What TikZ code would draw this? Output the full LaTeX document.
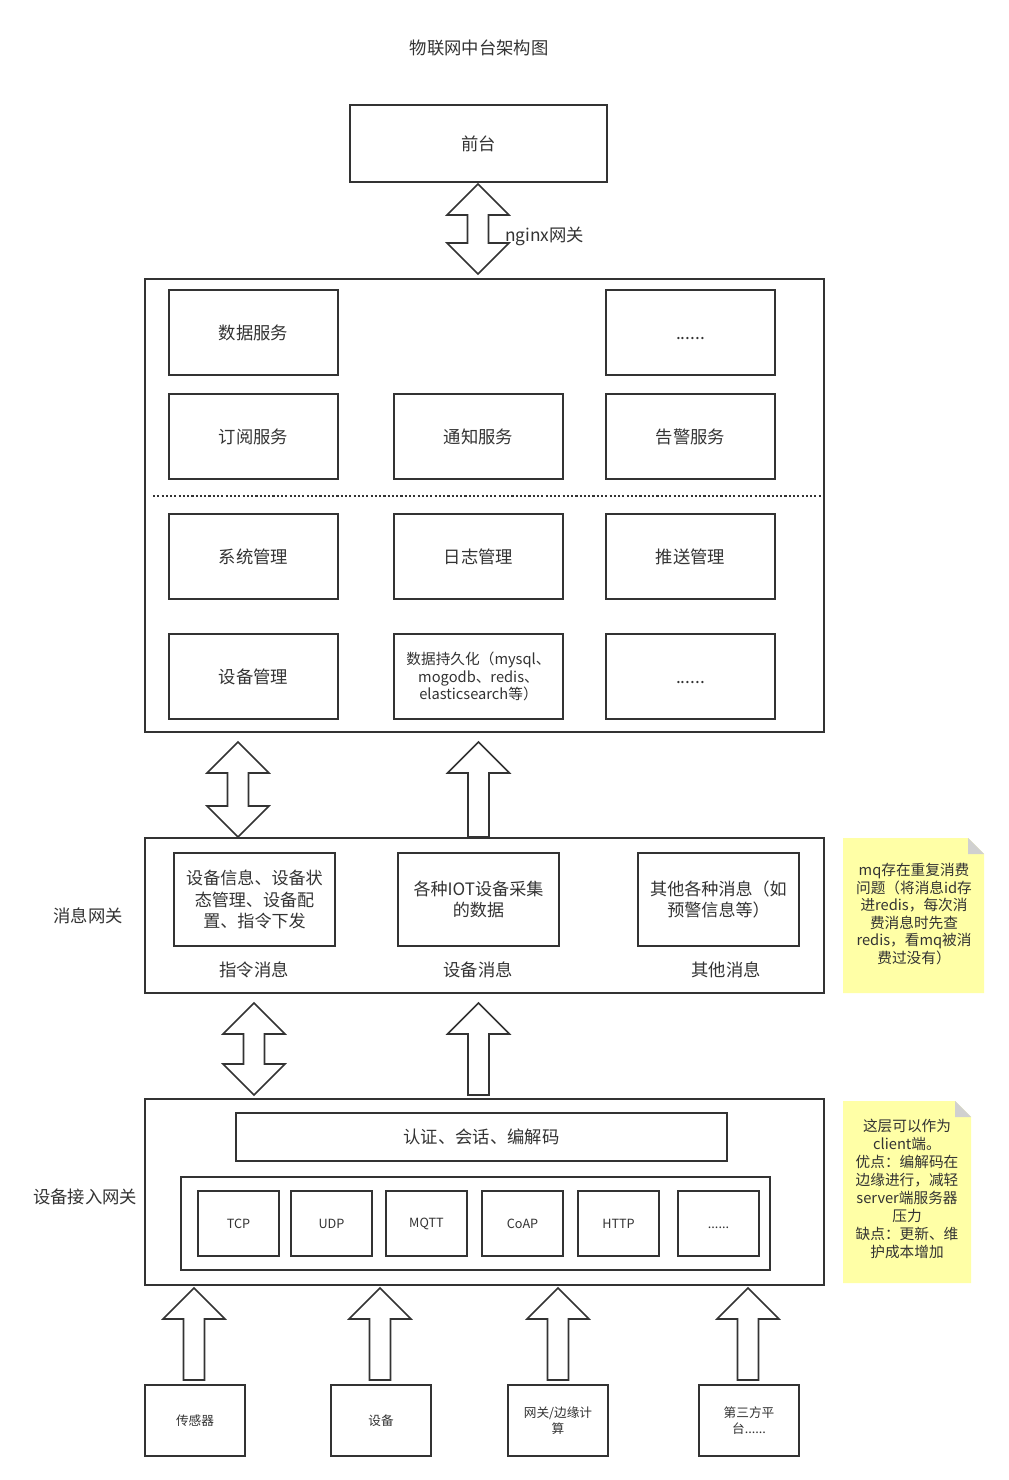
\documentclass[tikz,border=0pt]{standalone}
\usepackage{fontspec}
\setmainfont{Noto Sans CJK SC}
\definecolor{ln}{HTML}{333333}
\definecolor{notey}{HTML}{FFFFA6}
\definecolor{foldc}{HTML}{D0D0D0}
\tikzset{
 box/.style={draw=ln, line width=1.2pt, fill=white, text=ln, align=center, inner sep=0pt, font=\fontsize{13}{16}\selectfont},
 sz/.style 2 args={minimum width=#1*0.75pt, minimum height=#2*0.75pt},
 small/.style={font=\fontsize{9.5}{12}\selectfont},
 blk/.style={draw=ln, line width=1.2pt, fill=white, line join=miter},
 lbl/.style={text=ln, font=\fontsize{13}{16}\selectfont, inner sep=0pt},
 notetext/.style={text=ln, align=center, inner sep=0pt},
 note/.style={fill=notey, draw=none},
 foldtri/.style={fill=foldc, draw=none},
}
\newcommand\uparr[3]{%
 \draw[blk] (#1,#2) -- (#1+31,#2+31) -- (#1+10.5,#2+31) -- (#1+10.5,#3) -- (#1-10.5,#3) -- (#1-10.5,#2+31) -- (#1-31,#2+31) -- cycle;}
\newcommand\dblarr[3]{%
 \draw[blk] (#1,#2) -- (#1+31,#2+31) -- (#1+10.5,#2+31) -- (#1+10.5,#3-31) -- (#1+31,#3-31) -- (#1,#3) -- (#1-31,#3-31) -- (#1-10.5,#3-31) -- (#1-10.5,#2+31) -- (#1-31,#2+31) -- cycle;}
\begin{document}
\begin{tikzpicture}[x=0.75pt,y=-0.75pt]
\useasboundingbox[fill=white] (0,0) rectangle (1009,1480);

\node[lbl] (title) at (479,48) {物联网中台架构图};

% front
\node[box, sz={257}{77}] (front) at (478.5,143.5) {前台};
\dblarr{478}{184}{274}
\node[lbl, anchor=west] (nginx) at (505,236) {nginx网关};

% main
\node[box, sz={679}{453}] (main) at (484.5,505.5) {};
\node[box, sz={169}{85}] (ds) at (253.5,332.5) {数据服务};
\node[box, sz={169}{85}] (dots1) at (690.5,332.5) {\vphantom{数}......};
\node[box, sz={169}{85}] (sub) at (253.5,436.5) {订阅服务};
\node[box, sz={169}{85}] (notif) at (478.5,436.5) {通知服务};
\node[box, sz={169}{85}] (alarm) at (690.5,436.5) {告警服务};
\coordinate (dl) at (153,496);
\coordinate (dr) at (821,496);
\draw[ln, line width=1.2pt, dash pattern=on 1.6pt off 1.6pt] (dl) -- (dr);
\node[box, sz={169}{85}] (sys) at (253.5,556.5) {系统管理};
\node[box, sz={169}{85}] (log) at (478.5,556.5) {日志管理};
\node[box, sz={169}{85}] (push) at (690.5,556.5) {推送管理};
\node[box, sz={169}{85}] (dev) at (253.5,676.5) {设备管理};
\node[box, sz={169}{85}, font=\fontsize{11}{13.2}\selectfont] (persist) at (478.5,676.5) {数据持久化（mysql、\\mogodb、redis、\\elasticsearch等）};
\node[box, sz={169}{85}] (dots2) at (690.5,676.5) {\vphantom{数}......};

\dblarr{238}{742}{837}
\uparr{478.5}{742}{837}

% message gateway
\node[box, sz={679}{155}] (msg) at (484.5,915.5) {};
\node[lbl] (msglbl) at (88,916) {消息网关};
\node[box, sz={161}{93}, font=\fontsize{12.8}{15.8}\selectfont] (m1) at (254.5,899.5) {设备信息、设备状\\态管理、设备配\\置、指令下发};
\node[box, sz={161}{93}, font=\fontsize{12.8}{15.8}\selectfont] (m2) at (478.5,899.5) {各种IOT设备采集\\的数据};
\node[box, sz={161}{93}, font=\fontsize{12.8}{15.8}\selectfont] (m3) at (718.5,899.5) {其他各种消息（如\\预警信息等）};
\node[lbl] (l1) at (254,970) {指令消息};
\node[lbl] (l2) at (478,970) {设备消息};
\node[lbl] (l3) at (726,970) {其他消息};

% note 1
\fill[note] (843,838) -- (968,838) -- (984,854) -- (984,993) -- (843,993) -- cycle;
\fill[foldtri] (968,838) -- (968,854) -- (984,854) -- cycle;
\node[notetext, font=\fontsize{11}{13.2}\selectfont] (n1) at (914,914) {mq存在重复消费\\问题（将消息id存\\进redis，每次消\\费消息时先查\\redis，看mq被消\\费过没有）};

\dblarr{254}{1003}{1095}
\uparr{478.5}{1003}{1095}

% access gateway
\node[box, sz={679}{186}] (acc) at (484.5,1192) {};
\node[lbl] (acclbl) at (85,1197) {设备接入网关};
\node[box, sz={491}{48}] (auth) at (481.5,1137) {认证、会话、编解码};
\node[box, sz={589}{93}] (proto) at (475.5,1223.5) {};
\node[box, sz={81}{65}, small] (tcp) at (238.5,1223.5) {TCP};
\node[box, sz={81}{65}, small] (udp) at (331.5,1223.5) {UDP};
\node[box, sz={81}{65}, small] (mqtt) at (426.5,1223.5) {MQTT};
\node[box, sz={81}{65}, small] (coap) at (522.5,1223.5) {CoAP};
\node[box, sz={81}{65}, small] (http) at (618.5,1223.5) {HTTP};
\node[box, sz={81}{65}, small] (pdots) at (718.5,1223.5) {\vphantom{数}......};

% note 2
\fill[note] (843,1101) -- (955,1101) -- (971,1117) -- (971,1283) -- (843,1283) -- cycle;
\fill[foldtri] (955,1101) -- (955,1117) -- (971,1117) -- cycle;
\node[notetext, font=\fontsize{11}{13.5}\selectfont] (n2) at (907,1189) {这层可以作为\\client端。\\优点：编解码在\\边缘进行，减轻\\server端服务器\\压力\\缺点：更新、维\\护成本增加};

% bottom sources
\uparr{194}{1288}{1380}
\uparr{380}{1288}{1380}
\uparr{558}{1288}{1380}
\uparr{748}{1288}{1380}
\node[box, sz={100}{71}, small] (sensor) at (195,1420.5) {传感器};
\node[box, sz={100}{71}, small] (device) at (381,1420.5) {设备};
\node[box, sz={100}{71}, small] (edge) at (558,1420.5) {网关/边缘计\\算};
\node[box, sz={100}{71}, small] (third) at (749,1420.5) {第三方平\\台......};
\end{tikzpicture}
\end{document}
